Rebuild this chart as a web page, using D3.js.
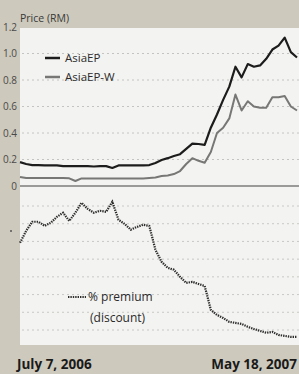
<!DOCTYPE html>
<html>
<head>
<meta charset="utf-8">
<script src="https://cdn.jsdelivr.net/npm/d3@7"></script>
<style>
  html, body { margin: 0; padding: 0; background: #cdc9bc; }
  svg { display: block; }
  text { font-family: "Open Sans", "Noto Sans", sans-serif; }
</style>
</head>
<body>
<script>
// weekly closes, July 7 2006 .. May 18 2007
var startDate = new Date(2006, 6, 7);
var endDate = new Date(2007, 4, 18);

var asiaEP = [0.18, 0.166, 0.158, 0.158, 0.155, 0.155, 0.155, 0.15, 0.15, 0.15,
              0.15, 0.15, 0.147, 0.15, 0.15, 0.136, 0.155, 0.155, 0.155, 0.155,
              0.155, 0.158, 0.174, 0.196, 0.21, 0.226, 0.24, 0.28, 0.32, 0.317,
              0.31, 0.44, 0.54, 0.65, 0.75, 0.90, 0.82, 0.92, 0.90, 0.91,
              0.96, 1.03, 1.06, 1.12, 1.01, 0.97];

var asiaEPW = [0.068, 0.06, 0.06, 0.06, 0.06, 0.06, 0.06, 0.06, 0.058, 0.038,
               0.057, 0.057, 0.057, 0.057, 0.057, 0.057, 0.057, 0.057, 0.057, 0.057,
               0.057, 0.06, 0.064, 0.075, 0.08, 0.09, 0.113, 0.166, 0.21, 0.19,
               0.175, 0.257, 0.40, 0.44, 0.51, 0.69, 0.57, 0.64, 0.60, 0.59,
               0.59, 0.67, 0.67, 0.68, 0.60, 0.57];

var premium = [19.2, 26.0, 31.1, 31.1, 28.8, 30.5, 33.9, 36.2, 31.6, 36.2,
               41.8, 38.4, 36.2, 37.3, 36.7, 42.4, 32.2, 29.9, 26.6, 28.2,
               29.4, 28.8, 15.3, 8.5, 5.1, 4.0, 0, -3.4, -2.8, -4.0,
               -5.1, -18.6, -21.5, -23.2, -25.4, -26.0, -26.6, -28.2, -29.4, -30.5,
               -31.6, -31.1, -32.8, -33.3, -33.9, -33.9];

var priceTicks = [0, 0.2, 0.4, 0.6, 0.8, 1.0, 1.2];
var priceGrid = [0.2, 0.4, 0.6, 0.8, 1.0];
var premiumGrid = [40, 30, 20, 10, 0, -10, -20, -30];

var width = 299, height = 374;
var plotLeft = 20, plotRight = 299, plotTop = 28, plotBottom = 345;

var dates = asiaEP.map(function(d, i){ return d3.timeDay.offset(startDate, 7 * i); });

var x = d3.scaleTime().domain([startDate, endDate]).range([20, 297]);
var yPrice = d3.scaleLinear().domain([0, 1.2]).range([186, 27]);
var yPrem = d3.scaleLinear().domain([-30, 40]).range([330, 206]);

var svg = d3.select("body").append("svg")
    .attr("width", width)
    .attr("height", height);

svg.append("rect")
    .attr("width", width).attr("height", height)
    .attr("fill", "#cdc9bc");

svg.append("rect")
    .attr("x", plotLeft).attr("y", plotTop)
    .attr("width", plotRight - plotLeft).attr("height", plotBottom - plotTop)
    .attr("fill", "#f3f3f1");

// dotted grid
svg.selectAll(".pgrid").data(priceGrid).enter().append("line")
    .attr("class", "pgrid")
    .attr("x1", plotLeft + 2).attr("x2", plotRight)
    .attr("y1", function(d){ return yPrice(d); })
    .attr("y2", function(d){ return yPrice(d); })
    .attr("stroke", "#c4c4c2").attr("stroke-width", 1)
    .attr("stroke-dasharray", "2,3");

svg.selectAll(".mgrid").data(premiumGrid).enter().append("line")
    .attr("class", "mgrid")
    .attr("x1", plotLeft + 2).attr("x2", plotRight)
    .attr("y1", function(d){ return yPrem(d); })
    .attr("y2", function(d){ return yPrem(d); })
    .attr("stroke", "#c8c8c6").attr("stroke-width", 1)
    .attr("stroke-dasharray", "2,3");

// zero line
svg.append("line")
    .attr("x1", plotLeft).attr("x2", plotRight)
    .attr("y1", yPrice(0)).attr("y2", yPrice(0))
    .attr("stroke", "#9a9a98").attr("stroke-width", 2);

// price axis labels
svg.selectAll(".ptick").data(priceTicks).enter().append("text")
    .attr("class", "ptick")
    .attr("x", 17)
    .attr("y", function(d){ return yPrice(d) + 3.5; })
    .attr("text-anchor", "end")
    .attr("font-size", 10)
    .attr("fill", "#4a4a48")
    .text(function(d){ return d === 0 ? "0" : d3.format(".1f")(d); });

svg.append("text")
    .attr("x", 20).attr("y", 22)
    .attr("font-size", 10.5)
    .attr("fill", "#3a3a38")
    .text("Price (RM)");

svg.append("circle")
    .attr("cx", 11).attr("cy", 231).attr("r", 1)
    .attr("fill", "#555");

var line = function(y, data){
    return d3.line()
        .x(function(d, i){ return x(dates[i]); })
        .y(function(d){ return y(d); })(data);
};

svg.append("path")
    .attr("d", line(yPrice, asiaEPW))
    .attr("fill", "none")
    .attr("stroke", "#777775")
    .attr("stroke-width", 2)
    .attr("stroke-linejoin", "round");

svg.append("path")
    .attr("d", line(yPrice, asiaEP))
    .attr("fill", "none")
    .attr("stroke", "#1c1c1c")
    .attr("stroke-width", 2.2)
    .attr("stroke-linejoin", "round");

svg.append("path")
    .attr("d", line(yPrem, premium))
    .attr("fill", "none")
    .attr("stroke", "#2e2e2e")
    .attr("stroke-width", 2.2)
    .attr("stroke-dasharray", "1.4,1");

// legends
var legend = [
    { label: "AsiaEP", color: "#1c1c1c", y: 58 },
    { label: "AsiaEP-W", color: "#777775", y: 77 }
];
legend.forEach(function(l){
    svg.append("line")
        .attr("x1", 45).attr("x2", 60)
        .attr("y1", l.y).attr("y2", l.y)
        .attr("stroke", l.color).attr("stroke-width", 2.5);
    svg.append("text")
        .attr("x", 65).attr("y", l.y + 4)
        .attr("font-size", 11.5)
        .attr("fill", "#2a2a2a")
        .text(l.label);
});

svg.append("line")
    .attr("x1", 68).attr("x2", 86)
    .attr("y1", 297).attr("y2", 297)
    .attr("stroke", "#2e2e2e").attr("stroke-width", 2.2)
    .attr("stroke-dasharray", "1.4,1");
svg.append("text")
    .attr("x", 88).attr("y", 301)
    .attr("font-size", 12)
    .attr("fill", "#2a2a2a")
    .text("% premium");
svg.append("text")
    .attr("x", 90).attr("y", 322)
    .attr("font-size", 12)
    .attr("fill", "#2a2a2a")
    .text("(discount)");

// date labels
svg.append("text")
    .attr("x", 17).attr("y", 369)
    .attr("font-size", 13.5)
    .attr("font-weight", "bold")
    .attr("fill", "#1a1a1a")
    .text("July 7, 2006");
svg.append("text")
    .attr("x", 297).attr("y", 369)
    .attr("text-anchor", "end")
    .attr("font-size", 13.5)
    .attr("font-weight", "bold")
    .attr("fill", "#1a1a1a")
    .text("May 18, 2007");
</script>
</body>
</html>
